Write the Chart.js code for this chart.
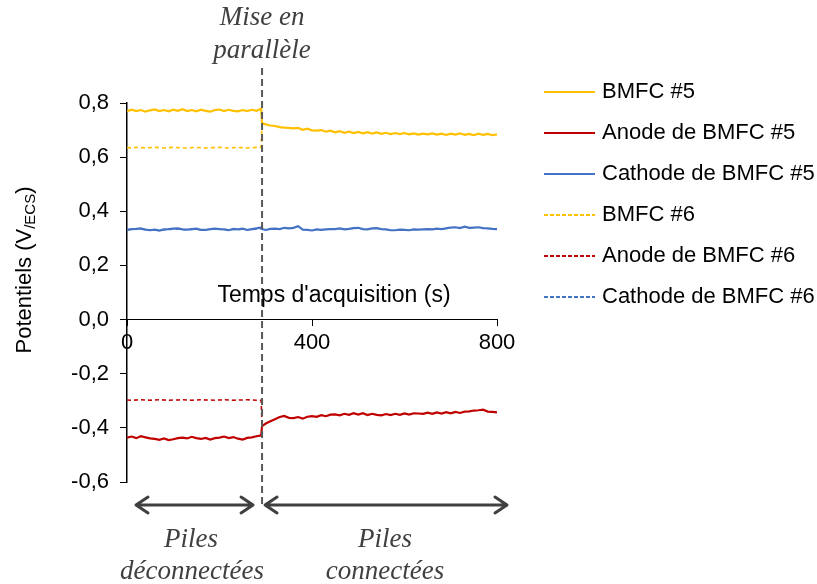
<!DOCTYPE html>
<html>
<head>
<meta charset="utf-8">
<script src="https://cdn.jsdelivr.net/npm/chart.js@4/dist/chart.umd.min.js"></script>
<style>
  html, body { margin: 0; padding: 0; background: #fff; }
  #wrap { width: 817px; height: 584px; }
</style>
</head>
<body>
<div id="wrap"><canvas id="chart" width="817" height="584"></canvas></div>
<script>
// time axis (s)
const times = [0,10,20,30,40,50,60,70,80,90,100,110,120,130,140,150,160,170,180,190,200,210,220,230,240,250,260,270,280,290,
  292,300,310,320,330,340,350,360,370,380,390,400,410,420,430,440,450,460,470,480,490,500,510,520,530,540,550,560,570,580,590,
  600,610,620,630,640,650,660,670,680,690,700,710,720,730,740,750,760,770,780,790,800];

const bmfc5 = [0.770,0.775,0.770,0.774,0.768,0.773,0.776,0.770,0.774,0.769,
  0.775,0.771,0.777,0.770,0.774,0.769,0.775,0.771,0.768,0.774,
  0.776,0.770,0.775,0.771,0.769,0.774,0.770,0.775,0.771,0.779,
  0.726,
  0.721,0.717,0.715,0.711,0.709,0.708,0.706,0.708,0.701,0.705,
  0.699,0.698,0.700,0.694,0.698,0.692,0.696,0.690,0.694,0.689,
  0.693,0.688,0.692,0.687,0.691,0.686,0.690,0.685,0.689,0.685,
  0.689,0.684,0.688,0.683,0.687,0.684,0.688,0.683,0.687,0.682,
  0.687,0.683,0.688,0.682,0.686,0.681,0.687,0.682,0.686,0.681,0.684];

const anode5 = [-0.436,-0.432,-0.438,-0.431,-0.435,-0.439,-0.441,-0.444,-0.439,-0.445,
  -0.442,-0.438,-0.436,-0.439,-0.433,-0.438,-0.441,-0.437,-0.443,-0.438,
  -0.436,-0.432,-0.438,-0.434,-0.440,-0.443,-0.437,-0.435,-0.431,-0.428,
  -0.394,
  -0.384,-0.376,-0.368,-0.360,-0.356,-0.363,-0.364,-0.360,-0.366,-0.359,
  -0.357,-0.359,-0.353,-0.357,-0.351,-0.350,-0.354,-0.348,-0.352,-0.346,
  -0.351,-0.346,-0.353,-0.348,-0.352,-0.354,-0.349,-0.353,-0.348,-0.352,
  -0.347,-0.351,-0.346,-0.347,-0.348,-0.344,-0.348,-0.343,-0.347,-0.342,
  -0.346,-0.341,-0.345,-0.340,-0.339,-0.336,-0.335,-0.333,-0.340,-0.341,-0.343];

const cathode5 = [0.331,0.334,0.335,0.337,0.332,0.330,0.332,0.329,0.333,0.334,
  0.336,0.337,0.333,0.332,0.334,0.336,0.331,0.331,0.334,0.336,
  0.334,0.333,0.330,0.335,0.333,0.336,0.331,0.334,0.337,0.340,
  0.334,
  0.331,0.335,0.336,0.334,0.339,0.337,0.339,0.345,0.332,0.331,
  0.329,0.333,0.331,0.333,0.334,0.334,0.337,0.333,0.335,0.338,
  0.339,0.334,0.333,0.337,0.338,0.334,0.333,0.330,0.330,0.332,
  0.331,0.330,0.333,0.332,0.333,0.334,0.333,0.336,0.334,0.337,
  0.340,0.341,0.338,0.343,0.339,0.340,0.341,0.338,0.337,0.335,0.334];

// cell #6 only shows until the connection (then merged with #5)
const bmfc6 = [0.635,0.634,0.636,0.635,0.634,0.635,0.636,0.635,0.634,0.635,
  0.636,0.635,0.634,0.634,0.635,0.636,0.635,0.634,0.635,0.635,
  0.636,0.635,0.634,0.635,0.636,0.635,0.634,0.635,0.636,0.636,
  0.726];
const anode6 = [-0.297,-0.298,-0.297,-0.296,-0.297,-0.298,-0.297,-0.296,-0.297,-0.298,
  -0.297,-0.297,-0.296,-0.297,-0.298,-0.297,-0.296,-0.297,-0.297,-0.298,
  -0.297,-0.296,-0.297,-0.298,-0.297,-0.297,-0.296,-0.297,-0.298,-0.298,
  -0.394];
const cathode6 = [0.332,0.333,0.334,0.334,0.333,0.331,0.332,0.330,0.332,0.333,
  0.334,0.335,0.333,0.332,0.333,0.334,0.332,0.332,0.333,0.335,
  0.334,0.333,0.332,0.333,0.333,0.334,0.332,0.333,0.335,0.336,
  0.334];

const labels = ['BMFC #5','Anode de BMFC #5','Cathode de BMFC #5','BMFC #6','Anode de BMFC #6','Cathode de BMFC #6'];
const colors = ['#FFC000','#C00000','#4472C4','#FFC000','#C00000','#4472C4'];
const connectTime = 292;
const xTicks = [0, 400, 800];

function pts(vals) {
  return vals.map((v, i) => ({x: times[i], y: v}));
}

const series = [bmfc5, anode5, cathode5, bmfc6, anode6, cathode6];
const datasets = series.map((s, i) => ({
  label: labels[i],
  data: pts(s),
  borderColor: colors[i],
  backgroundColor: colors[i],
  borderWidth: i < 3 ? 2.2 : 1.6,
  borderDash: i < 3 ? [] : [4, 3],
  pointRadius: 0,
  tension: 0
}));

const FONT = "'Liberation Sans', Arial, sans-serif";
const SERIF = "'Liberation Serif', 'Times New Roman', serif";

const extras = {
  id: 'extras',
  afterDraw(chart) {
    const ctx = chart.ctx;
    const xs = chart.scales.x;
    const xc = xs.getPixelForValue(connectTime);
    ctx.save();
    // vertical dashed separator
    ctx.strokeStyle = '#595959';
    ctx.lineWidth = 2;
    ctx.setLineDash([7, 4]);
    ctx.beginPath();
    ctx.moveTo(xc, 68);
    ctx.lineTo(xc, 505);
    ctx.stroke();
    ctx.setLineDash([]);

    // arrows
    ctx.strokeStyle = '#404040';
    ctx.lineWidth = 3;
    ctx.lineCap = 'round';
    ctx.lineJoin = 'round';
    function arrow(x1, x2, y) {
      ctx.beginPath();
      ctx.moveTo(x1, y); ctx.lineTo(x2, y);
      ctx.moveTo(x1 + 12, y - 8); ctx.lineTo(x1, y); ctx.lineTo(x1 + 12, y + 8);
      ctx.moveTo(x2 - 12, y - 8); ctx.lineTo(x2, y); ctx.lineTo(x2 - 12, y + 8);
      ctx.stroke();
    }
    arrow(xs.left + 9, xc - 9, 505);
    arrow(xc + 3, 507, 505);

    // italic annotations
    ctx.fillStyle = '#404040';
    ctx.font = 'italic 27px ' + SERIF;
    ctx.textAlign = 'center';
    ctx.textBaseline = 'middle';
    ctx.fillText('Mise en', xc, 18);
    ctx.fillText('parallèle', xc, 51);
    ctx.fillText('Piles', 191, 540);
    ctx.fillText('déconnectées', 192, 572);
    ctx.fillText('Piles', 385, 540);
    ctx.fillText('connectées', 385, 572);

    // x axis title
    ctx.fillStyle = '#000';
    ctx.font = '23px ' + FONT;
    ctx.fillText("Temps d'acquisition (s)", 334, 296);

    // y axis title with subscript
    ctx.translate(25, 270);
    ctx.rotate(-Math.PI / 2);
    const main = 'Potentiels (V', sub = '/ECS', end = ')';
    ctx.font = '22px ' + FONT;
    const w1 = ctx.measureText(main).width, w3 = ctx.measureText(end).width;
    ctx.font = '15px ' + FONT;
    const w2 = ctx.measureText(sub).width;
    const x0 = -(w1 + w2 + w3) / 2;
    ctx.textAlign = 'left';
    ctx.font = '22px ' + FONT;
    ctx.fillText(main, x0, 0);
    ctx.font = '15px ' + FONT;
    ctx.fillText(sub, x0 + w1, 6);
    ctx.font = '22px ' + FONT;
    ctx.fillText(end, x0 + w1 + w2, 0);
    ctx.restore();

    // legend
    ctx.save();
    ctx.font = '22px ' + FONT;
    ctx.textBaseline = 'middle';
    ctx.textAlign = 'left';
    chart.data.datasets.forEach((ds, i) => {
      const y = 92 + i * 41;
      ctx.strokeStyle = ds.borderColor;
      ctx.lineWidth = 2;
      ctx.setLineDash(ds.borderDash.length ? [4, 2] : []);
      ctx.beginPath();
      ctx.moveTo(544, y); ctx.lineTo(595, y);
      ctx.stroke();
      ctx.fillStyle = '#000';
      ctx.fillText(ds.label, 602, y);
    });
    ctx.restore();
  }
};

new Chart(document.getElementById('chart'), {
  type: 'line',
  data: { datasets: datasets },
  options: {
    responsive: false,
    animation: false,
    layout: { padding: { left: 0, right: 320, top: 103, bottom: 102 } },
    plugins: { legend: { display: false }, tooltip: { enabled: false } },
    scales: {
      x: {
        type: 'linear',
        position: { y: 0 },
        min: 0, max: 800,
        afterBuildTicks: (s) => { s.ticks = xTicks.map(v => ({value: v})); },
        ticks: { font: { size: 22, family: FONT }, color: '#000', padding: 4, maxRotation: 0 },
        grid: { drawOnChartArea: false, tickLength: 6, color: '#000' },
        border: { color: '#000', width: 1 }
      },
      y: {
        position: 'left',
        min: -0.6, max: 0.8,
        afterFit: (s) => { s.width = 127; },
        ticks: {
          stepSize: 0.2,
          font: { size: 22, family: FONT }, color: '#000', padding: 11,
          callback: (v) => (Math.abs(v) < 1e-9 ? 0 : v).toFixed(1).replace('.', ',')
        },
        grid: { drawOnChartArea: false, tickLength: 7, color: '#000' },
        border: { color: '#000', width: 1.5 }
      }
    }
  },
  plugins: [extras]
});
</script>
</body>
</html>
